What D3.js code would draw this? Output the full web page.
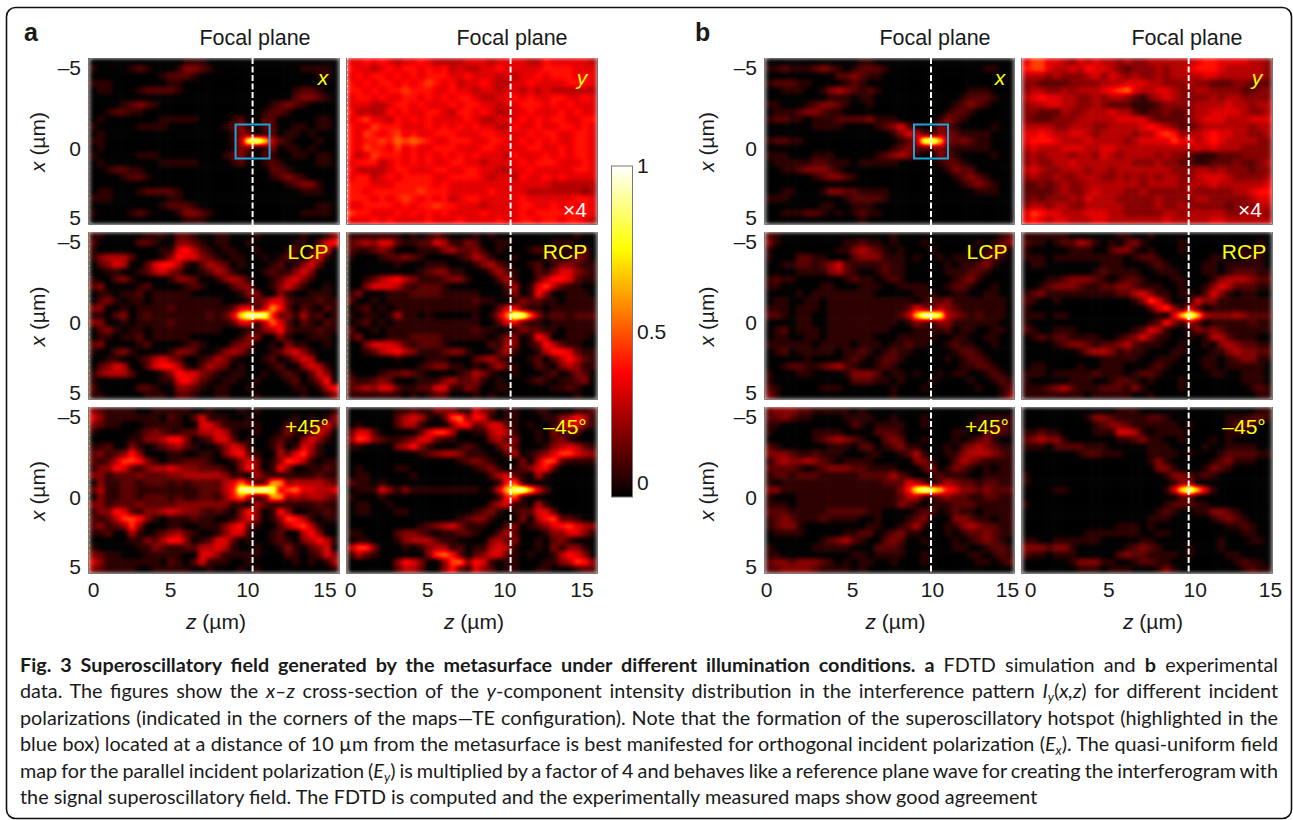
<!DOCTYPE html>
<html>
<head>
<meta charset="UTF-8">
<title>Fig. 3</title>
<script src="https://d3js.org/d3.v7.min.js"></script>
<style>
  body { margin: 0; background: #fff; }
  svg { display: block; }
  text { font-family: "Liberation Sans", sans-serif; fill: #1a1a1a; }
  .tick text { font-size: 21px; }
  .cap { font-family: Lato, sans-serif; font-size: 19.8px; }
</style>
</head>
<body>
<div id="chart"></div>
<script>
"use strict"
// intensity maps. each char is a level 0-f (0 -> 0, f -> 1), 32 columns x 23 rows
var aX = [
"0000 0000 0000 1110 0000 0000 0000 0000",
"1000 0121 0001 3321 0000 0000 0001 1110",
"0000 0000 0122 2100 0000 0000 0000 0110",
"1110 0000 0011 0000 0000 0000 0000 0000",
"0110 0012 2221 0000 0000 0000 0012 2100",
"0000 0000 0000 0000 0000 0000 0023 3210",
"0000 1232 1000 0000 0000 0001 2321 0000",
"0012 2110 0000 0000 0000 0012 2100 0000",
"0100 0000 0111 1100 0012 0022 0000 0110",
"1000 0011 1100 0000 0123 1022 0011 0110",
"0100 0000 0000 0000 0013 2012 0110 1000",
"1100 0000 0000 0000 0014 dfb4 2100 0100",
"0100 0000 0000 0000 0013 2013 0110 1000",
"1000 0011 1000 0000 0123 1021 0011 0110",
"0100 0000 0111 1100 0012 0012 1000 0110",
"0012 2110 0000 0000 0000 0002 2100 0000",
"0000 1221 0000 0000 0000 0001 2321 0000",
"0000 0000 0000 0000 0000 0000 0123 3100",
"0110 0012 2221 0000 0000 0000 0001 1100",
"1110 0000 0011 0000 0000 0000 0000 0000",
"0000 0000 0122 2100 0000 0000 0000 0110",
"1000 0121 0001 3321 0000 0000 0001 1110",
"0000 0000 0000 1110 0000 0000 0000 0000"]
var aY = [
"5565 6545 5654 4445 5545 5554 4655 5554",
"6554 5656 6565 6454 4556 5555 5666 6555",
"5656 6565 6566 6556 5554 5455 6566 6565",
"6565 6656 5676 5645 5654 4556 5555 6665",
"6656 5667 6665 5655 4554 5545 4544 4444",
"5665 6556 6565 6566 5445 5656 5566 5565",
"5554 4566 5655 5656 6554 5566 6565 6555",
"6444 4656 5566 5466 5654 4556 5556 5655",
"5675 5465 6565 5556 5445 5565 6566 5566",
"6557 6665 5565 6565 6554 4655 6556 6565",
"6576 5675 6556 6655 5665 5556 5665 5665",
"6566 7687 8765 5666 5566 5565 6565 5665",
"6576 6575 6556 6655 5665 5556 6556 5665",
"6457 6665 6565 6565 6555 4655 5656 5665",
"5666 4565 6565 5665 5455 5565 6665 5565",
"6444 4566 5556 6556 6554 4556 5555 5665",
"5664 5656 6665 5666 6545 5465 5656 5555",
"6665 5566 6665 6555 5555 5555 5544 4444",
"6656 6666 6766 6555 5565 5554 4444 4434",
"6665 6567 6565 6456 6555 5565 5555 5665",
"5566 6656 5667 6655 5455 5566 5565 6565",
"7665 5565 6565 6555 5655 5565 6666 6665",
"5556 5655 5565 5565 5556 5566 5665 6654"]
var aL = [
"1100 0001 1102 2100 1100 0100 0001 0013",
"2000 0022 1003 3210 1100 1000 0011 0256",
"1000 0000 0115 6421 0110 0100 0120 1450",
"1344 4200 0136 5532 1011 0010 1210 3510",
"0235 4002 5664 1024 3201 0001 2013 5200",
"0011 0012 4532 0012 4310 0012 1135 3000",
"1002 3100 0013 3200 1343 1001 2453 1000",
"2300 0012 0000 1210 0023 3001 3531 0010",
"0110 1120 1111 1000 0001 3300 3100 1110",
"0231 0110 1111 1111 1000 1235 5211 1211",
"3300 1011 1121 1111 1125 5149 6202 1021",
"1102 3012 1111 1112 125b ffe6 2314 1201",
"3300 1011 1121 1111 1125 5148 5202 1021",
"0231 0110 1111 1111 1000 1134 6211 1211",
"0110 1120 1111 1000 0001 3300 3100 1110",
"2300 0012 0000 1210 0023 3001 0311 0010",
"1002 3100 0013 3200 1343 1001 2453 1000",
"0011 0012 4532 0012 4310 0012 0135 4000",
"0235 4002 5664 1024 3201 0001 2003 5410",
"1344 4200 0136 5532 1011 0010 1210 2530",
"1000 0000 0115 6421 0110 0100 0120 1360",
"2000 0022 1003 3210 1100 1000 0011 0146",
"1100 0001 1102 2100 1100 0100 0001 0013"]
var aR = [
"1111 1110 1012 1000 1010 0000 0000 0100",
"2343 5521 1225 4113 2001 1000 0011 1000",
"2112 3200 0111 3422 3101 0001 2101 1120",
"1000 1223 2100 0012 4310 0100 0120 1320",
"0000 0010 0011 1000 1342 1001 2013 3211",
"0000 0000 0123 3110 0024 2100 2135 5321",
"0012 4564 3111 2331 0002 4100 2466 5211",
"0035 5542 1222 1000 0000 2401 5742 1100",
"1300 0111 2222 1111 1000 1301 6300 1110",
"2001 0111 1111 1111 2110 0132 2110 1111",
"0120 1011 1111 1111 1002 5521 1011 1111",
"1011 0141 1010 0000 1014 8fe8 3122 1222",
"0120 1011 1111 1111 1002 5521 1011 1111",
"2001 0111 1111 1111 2110 0132 2110 1111",
"1300 0111 2222 1111 1101 3301 6400 1110",
"0035 5542 1222 1000 0021 4301 2642 1100",
"0012 4564 3111 2331 0002 4100 1466 5211",
"0000 0010 0011 1000 2342 1001 2024 6421",
"0000 0000 0123 3110 1024 2100 2103 4311",
"1000 1223 2100 0012 4310 0100 0120 1320",
"2112 3200 0111 3422 3101 0001 2101 1230",
"2343 5521 1225 5113 2001 1000 0011 2100",
"1111 1110 1012 2000 1010 0000 0000 0100"]
var aP = [
"3211 1100 1111 1001 0001 0100 0000 0001",
"5311 1111 1021 0251 1100 1000 0010 1013",
"3211 0001 1111 0055 3111 1100 0210 1252",
"1000 0012 3211 2244 5410 0100 1310 2530",
"0000 0113 3466 3012 5520 1001 2103 5310",
"1120 0310 1234 2100 1354 1001 3015 4100",
"2312 3630 0011 0011 0356 2100 4257 3100",
"2124 7763 1011 2221 0013 5301 3764 1011",
"1336 5213 4454 3322 2103 6301 6300 1121",
"3312 2232 2233 4444 4311 0421 1111 1211",
"0311 2212 2212 1222 2458 4129 9344 4432",
"2411 2211 1111 1122 246e fffd 5785 5445",
"0311 2212 2212 1122 1368 4129 9343 4432",
"3312 2232 2223 3333 3311 0421 1111 1211",
"1336 5213 3454 3321 2103 6301 6300 1121",
"2124 7763 1011 1211 0013 5301 3764 1011",
"2312 3730 0011 0011 1356 2100 2467 4100",
"1120 0410 1234 2100 1355 1001 2004 6300",
"0000 0113 2466 3012 5520 1001 2103 4641",
"1000 0011 3211 2244 5410 0100 1310 2350",
"3211 0001 1111 0055 3111 1100 0210 1253",
"5311 1111 1021 0251 1100 1000 0010 1014",
"3211 1100 1111 1001 0001 0100 0000 0001"]
var aM = [
"0000 0011 2113 3311 5320 1100 1100 0112",
"0000 0024 5410 2783 6510 1100 0113 4641",
"0100 0024 4100 0366 2355 2101 0013 5531",
"2552 0000 0257 7400 1145 4100 1031 2200",
"3763 2112 3552 1100 0034 2300 1023 1000",
"1100 0034 6310 0012 1002 4200 0134 5421",
"0000 0000 0123 4431 1100 2401 2357 7543",
"0000 0000 0000 0012 3210 0030 4772 1111",
"0100 0011 0000 0000 1231 0123 5620 0000",
"0110 0000 1000 0000 0024 5210 4100 0000",
"2110 1000 0000 0000 0001 6710 0000 0000",
"0111 5313 1111 1111 1015 aefa 5200 0000",
"1000 1000 0000 0000 0001 6710 0000 0000",
"0110 0100 0000 0000 0024 5110 4100 0000",
"0110 0011 0000 0000 1231 0122 5520 0000",
"0000 0000 0000 0012 3310 0030 4672 2100",
"0000 0000 0123 4531 1100 2301 2356 7543",
"1100 0023 3210 1122 1002 4200 0133 5531",
"0110 0013 4442 1100 0034 2300 1023 1000",
"4773 0001 0134 4120 1145 4100 1031 3310",
"1421 0000 0037 8620 2355 2101 0014 6530",
"0000 0036 5300 3783 6510 1100 0113 4763",
"0000 0024 4200 3621 5320 1100 1100 0122"]
var bX = [
"0000 0000 0000 1100 0000 0000 0000 0000",
"1121 1123 2101 2221 0000 0000 0000 1100",
"0000 0000 0223 2110 0000 0000 0000 0000",
"1222 1100 0012 1000 0000 0000 0000 0000",
"0011 1001 3432 1210 0000 0000 0011 1000",
"0000 0000 1110 1100 0000 0000 0122 2100",
"1100 0123 3210 0100 0000 0000 1232 1000",
"0111 2332 1100 0000 0000 0001 2210 0000",
"1221 1011 1222 2311 1000 0013 2100 0000",
"0000 0011 1100 0012 3521 0032 1000 0100",
"0000 0000 0000 0000 1354 2133 2111 1000",
"1221 1000 0000 0000 0124 dfa3 2321 1000",
"0000 0000 0000 0000 1232 2232 1111 1000",
"1110 0011 1000 0012 3431 0032 1000 0100",
"0111 1122 1110 1111 1000 0012 2100 0000",
"0011 2333 2100 0000 0000 0001 3220 0000",
"0000 0012 3321 0000 0000 0000 1232 1000",
"0000 0000 0000 0000 0000 0000 0123 2100",
"0011 0001 3322 1111 0000 0000 0001 1100",
"1110 0000 0012 2221 0000 0000 0000 0000",
"0000 0001 1001 1100 0000 0000 0000 0000",
"0011 1221 0101 2110 0000 0000 0000 0000",
"0000 0000 0000 1000 0000 0000 0000 0000"]
var bY = [
"5775 5435 4544 3433 4444 4456 6555 5443",
"6775 4454 6554 3233 3434 4566 6544 4443",
"4443 4333 4535 4343 3434 4445 5444 4443",
"3322 2233 3344 4555 4433 3433 2223 3222",
"3443 3434 4456 7854 4554 3344 3333 2233",
"4565 5443 3434 4321 3454 3333 4344 3333",
"3445 5443 3432 2211 1233 3344 4454 4344",
"3322 2433 4445 4421 2232 2344 5555 4334",
"3222 3334 4444 5555 3222 2345 5544 4555",
"4444 3344 4334 4445 6543 2234 4444 4344",
"5565 4455 4344 4434 4676 3445 6554 4334",
"5666 5444 5444 4345 5557 5645 6544 4433",
"4544 4555 4455 4444 4444 4454 5444 3333",
"3434 4434 4354 3444 4343 3211 1222 3333",
"3433 4454 4444 4433 3433 2211 2223 2234",
"4543 3444 3443 4444 4443 3344 3433 3233",
"3433 4334 4433 4343 4344 3345 5543 3334",
"2232 3433 4444 4443 4444 3444 5444 4445",
"2222 3433 4544 4334 3333 3433 3334 4566",
"2323 3343 5444 3333 3433 3344 3333 3455",
"3443 4433 4444 4333 3433 4333 3323 3344",
"5765 5444 5554 4333 3344 3444 4433 4443",
"5654 5544 4554 4444 4454 4444 5544 4444"]
var bL = [
"2100 0000 0000 0000 1000 0000 0000 0012",
"3100 0000 0011 2110 1000 1000 0001 0123",
"1000 0000 0113 4321 0100 0100 0010 1230",
"1000 2211 0002 3331 1101 0010 1100 2210",
"0011 2212 3521 1112 1100 0001 0112 3100",
"0000 1111 3421 0012 1100 0001 1122 1000",
"1211 0000 0012 1101 2100 0000 1231 0000",
"1100 0001 1000 1110 0111 1001 2210 0100",
"0000 1011 1111 1100 0001 1100 1100 1100",
"0110 0110 1111 1111 1110 1223 1111 1110",
"1110 1110 1111 1111 1125 3243 2111 1110",
"2210 1100 1111 1111 124a ffc4 3212 1110",
"0000 1100 1111 1111 1013 2133 1111 1100",
"0120 1110 1111 1111 0001 1112 0110 0110",
"0110 0110 1111 1100 0111 1100 1100 1100",
"1111 1101 1110 1110 1121 1001 2110 0100",
"0120 1111 1011 2101 2110 0000 1221 0000",
"0000 0100 0012 1012 2100 0001 0122 1000",
"0012 2112 3421 0012 1000 0000 0112 2100",
"1000 1100 0013 3320 1101 0010 1100 1210",
"1000 0000 0002 2211 0100 0100 0010 0121",
"2100 0001 1100 0000 1000 1000 0001 0012",
"3100 0000 0000 0000 1000 0000 0000 0013"]
var bR = [
"1111 1100 0000 1100 1000 0000 0000 0000",
"2110 1224 3101 0231 0000 1000 0000 0010",
"1000 0011 1002 3310 1000 1000 0000 1110",
"1110 1111 1111 1012 2100 0000 1100 1110",
"0110 0000 0011 1000 1210 0001 1011 1110",
"0000 0000 0121 1110 0111 0001 1012 2211",
"0001 1233 3210 1221 0001 1000 1344 4322",
"0012 3332 1122 3321 1100 1001 3542 2211",
"1231 1111 1111 2245 3110 1102 5310 1100",
"2100 1000 0000 0013 7520 0153 3111 1111",
"1000 0000 0000 0000 2573 1520 1111 1111",
"1110 1100 0000 0000 0105 afa4 3334 3222",
"1000 0000 0000 0000 1263 1420 1111 1211",
"2100 1110 0000 0012 5410 0132 3211 1111",
"0121 2211 1100 1235 3110 0101 4421 1100",
"0000 1233 2122 3421 1100 1001 0343 2211",
"0000 0001 3443 1211 0001 1000 1134 3322",
"0000 0000 0011 1110 0111 0001 1012 3311",
"0110 0001 0011 1000 1210 0001 1011 1110",
"1110 1111 1211 1012 2100 0000 1100 1110",
"1000 0011 1001 2210 1000 1000 0000 1110",
"1112 3421 1122 2131 0000 1000 0000 0121",
"1111 1111 0111 1100 1000 0000 0000 0011"]
var bP = [
"2333 2211 1110 1000 0000 0000 0000 0000",
"2232 1100 0011 1100 1000 1000 0001 1111",
"1100 0000 0002 1011 1100 1000 0011 0121",
"1000 0011 1100 0022 2100 0000 1100 2221",
"0000 0012 3432 1002 3200 1000 1012 3100",
"2100 0000 1110 2201 2311 0001 0234 3211",
"3332 1121 1100 0110 0124 1001 1344 4321",
"1343 3432 1011 1100 0003 3100 2432 1111",
"2222 1012 3332 2111 1000 2301 3210 1011",
"1221 2221 1111 2222 4210 0121 1100 1111",
"1011 1111 1111 1112 2254 2024 3221 2211",
"3311 1111 1111 1111 136c fda6 5332 3222",
"1000 1111 1111 1111 1244 1123 2211 2211",
"1110 1111 1111 1111 1321 0111 2221 1111",
"2221 1111 2222 2110 0001 2201 2110 1111",
"1232 1112 1111 0010 0012 3000 3321 1011",
"1233 1000 0000 0110 0124 1001 1343 2211",
"0111 1000 0011 2201 2311 0001 0122 3211",
"0000 0001 2342 1002 3200 1000 1012 3210",
"1000 0011 1110 0022 2100 0000 1100 1221",
"1100 0000 0001 1011 1100 1000 0011 0121",
"2332 3332 1010 1100 1000 1000 0001 1012",
"2233 3321 1110 1000 0000 0000 0000 0000"]
var bM = [
"0000 0000 0000 1110 0000 0000 0000 0011",
"0000 0000 1332 1111 2210 0000 0011 1221",
"0000 0000 0123 3211 1111 0100 0012 2200",
"1121 1000 0111 5541 0111 1000 0011 1000",
"2343 3100 0000 1123 1100 1000 1010 0000",
"1110 2222 1110 0000 1110 0001 0011 1100",
"0000 0001 2211 1000 1111 0100 0122 2211",
"0000 0000 0000 0000 1310 0000 1231 1100",
"0000 0000 0000 0000 0331 0001 3210 0000",
"1000 0000 0000 0000 0013 3212 1000 0000",
"1000 0000 0000 0000 0001 3300 0000 0000",
"0000 1100 0000 0000 0015 bfa5 1000 0000",
"0000 0000 0000 0000 0000 2200 0000 0000",
"1000 0000 0000 0000 0012 2211 0000 0000",
"0000 0000 0000 0000 0121 0011 3321 0000",
"0000 0000 0000 0000 1110 0000 1232 1000",
"0000 0000 0000 1110 1000 0000 0011 2100",
"0000 0000 1111 1110 0110 0000 0000 1100",
"1100 1111 1100 0001 1000 0000 0100 0110",
"3332 3310 0000 0123 2100 0100 0100 0000",
"2110 1110 0000 2322 1111 0100 0011 0000",
"0000 0013 3311 0012 2110 0000 0001 2110",
"0000 0001 1101 1100 0131 0000 0000 1211"]
var levelMax = 15

var yTicks = [-5, 0, 5]
var yTickNudge = [0, 7, 3]
var zTicks = [0, 5, 10, 15]
var cbarTicks = [0, 0.5, 1]

var focusA = 10.6, focusB = 10.0      // dashed focal plane, um
var zMaxA = 16.2, zMaxB = 15
var xHalf = 5.68

var captionLines = [
  [["Fig. 3 Superoscillatory field generated by the metasurface under different illumination conditions. a", "b"], [" FDTD simulation and ", ""], ["b", "b"], [" experimental", ""]],
  [["data. The figures show the ", ""], ["x–z", "i"], [" cross-section of the ", ""], ["y", "i"], ["-component intensity distribution in the interference pattern ", ""], ["I", "i"], ["y", "s"], ["(", ""], ["x,z", "i"], [") for different incident", ""]],
  [["polarizations (indicated in the corners of the maps—TE configuration). Note that the formation of the superoscillatory hotspot (highlighted in the", ""]],
  [["blue box) located at a distance of 10 µm from the metasurface is best manifested for orthogonal incident polarization (", ""], ["E", "i"], ["x", "s"], ["). The quasi-uniform field", ""]],
  [["map for the parallel incident polarization (", ""], ["E", "i"], ["y", "s"], [") is multiplied by a factor of 4 and behaves like a reference plane wave for creating the interferogram with", ""]],
  [["the signal superoscillatory field. The FDTD is computed and the experimentally measured maps show good agreement", ""]]
]

// layout
var rowsY = [[58, 224], [232, 399], [407, 573]]
var panels = [
  {m: aX, c: [89, 339], r: 0, f: focusA, zMax: zMaxA, lab: "x", it: 1, lx: 323, yAxis: 1, edge: "#a33", box: 1},
  {m: aY, c: [347, 597], r: 0, f: focusA, zMax: zMaxA, lab: "y", it: 1, lx: 582, edge: "#fe9"},
  {m: aL, c: [89, 339], r: 1, f: focusA, zMax: zMaxA, lab: "LCP", lx: 308, yAxis: 1, edge: "#f80"},
  {m: aR, c: [347, 597], r: 1, f: focusA, zMax: zMaxA, lab: "RCP", lx: 565, edge: "#f80"},
  {m: aP, c: [89, 339], r: 2, f: focusA, zMax: zMaxA, lab: "+45°", lx: 307, yAxis: 1, zAxis: [4, 4, 4, 4], edge: "#f90"},
  {m: aM, c: [347, 597], r: 2, f: focusA, zMax: zMaxA, lab: "–45°", lx: 565, zAxis: [3, 3, 3, 3], edge: "#c40"},
  {m: bX, c: [765, 1014], r: 0, f: focusB, zMax: zMaxB, lab: "x", it: 1, lx: 1000, yAxis: 1, box: 1},
  {m: bY, c: [1022, 1272], r: 0, f: focusB, zMax: zMaxB, lab: "y", it: 1, lx: 1257},
  {m: bL, c: [765, 1014], r: 1, f: focusB, zMax: zMaxB, lab: "LCP", lx: 987, yAxis: 1},
  {m: bR, c: [1022, 1272], r: 1, f: focusB, zMax: zMaxB, lab: "RCP", lx: 1244},
  {m: bP, c: [765, 1014], r: 2, f: focusB, zMax: zMaxB, lab: "+45°", lx: 987, yAxis: 1, zAxis: [1, 4, 1, -7]},
  {m: bM, c: [1022, 1272], r: 2, f: focusB, zMax: zMaxB, lab: "–45°", lx: 1244, zAxis: [8, 3, 6, -2]}
]

// matlab "hot"
var hot = d3.scaleLinear()
  .domain([0, 0.375, 0.75, 1])
  .range(["#000000", "#ff0000", "#ffff00", "#ffffff"])
var grey = d3.scaleLinear().domain([0, 1]).range(["#000000", "#ffffff"])

var svg = d3.select("#chart").append("svg").attr("width", 1293).attr("height", 820)
var defs = svg.append("defs")

svg.append("rect")
  .attr("x", 6.5).attr("y", 7.5).attr("width", 1285).attr("height", 811)
  .attr("rx", 9).attr("fill", "#fff").attr("stroke", "#111").attr("stroke-width", 1.6)

// lookup tables for feComponentTransfer, so the blur happens on the values and not on the colours
var lut = d3.range(0, 1.001, 1 / 64).map(function(t) { return d3.rgb(hot(t)) })
function table(ch) { return lut.map(function(c) { return (c[ch] / 255).toFixed(3) }).join(" ") }

panels.forEach(function(p, i) { drawPanel(p, i) })

function drawPanel(p, i) {
  var yr = rowsY[p.r]
  var cells = p.m.map(function(s) { return s.replace(/ /g, "").split("").map(function(c) { return parseInt(c, 16) / levelMax }) })
  var col = d3.scaleBand().domain(d3.range(32)).range(p.c)
  var row = d3.scaleBand().domain(d3.range(23)).range(yr)
  var z = d3.scaleLinear().domain([0, p.zMax]).range(p.c)
  var x = d3.scaleLinear().domain([-xHalf, xHalf]).range(yr)
  var w = p.c[1] - p.c[0], h = yr[1] - yr[0]

  defs.append("clipPath").attr("id", "clip" + i).append("rect")
    .attr("x", p.c[0]).attr("y", yr[0]).attr("width", w).attr("height", h)
  var f = defs.append("filter").attr("id", "soft" + i)
    .attr("filterUnits", "userSpaceOnUse")
    .attr("x", p.c[0]).attr("y", yr[0]).attr("width", w).attr("height", h)
    .attr("color-interpolation-filters", "sRGB")
  f.append("feGaussianBlur").attr("stdDeviation", "2.4 1.9").attr("edgeMode", "duplicate")
  var tr = f.append("feComponentTransfer")
  tr.append("feFuncR").attr("type", "table").attr("tableValues", table("r"))
  tr.append("feFuncG").attr("type", "table").attr("tableValues", table("g"))
  tr.append("feFuncB").attr("type", "table").attr("tableValues", table("b"))

  var g = svg.append("g")
  var map = g.append("g").attr("clip-path", "url(#clip" + i + ")").append("g").attr("filter", "url(#soft" + i + ")")
  cells.forEach(function(vals, r) {
    map.selectAll(null).data(vals).enter().append("rect")
      .attr("x", function(d, c) { return col(c) })
      .attr("y", row(r))
      .attr("width", col.bandwidth() + 0.5)
      .attr("height", row.bandwidth() + 0.5)
      .attr("fill", function(d) { return grey(d) })
  })

  // frame: grey on the left and bottom, dark on top
  g.append("path").attr("fill", "none").attr("stroke", "#777").attr("stroke-width", 1)
    .attr("d", "M" + (p.c[0] - 0.5) + "," + yr[0] + "V" + (yr[1] + 0.5) + "H" + (p.c[1] + 0.5) + "V" + yr[0])
  if (p.edge) {
    g.append("line").attr("x1", p.c[0] + 0.5).attr("x2", p.c[0] + 0.5).attr("y1", yr[0]).attr("y2", yr[1])
      .attr("stroke", p.edge).attr("stroke-width", 1).attr("stroke-dasharray", "1.5,4")
  }

  g.append("line")
    .attr("x1", z(p.f)).attr("x2", z(p.f)).attr("y1", yr[0] - (p.r ? 3 : 0)).attr("y2", yr[1] + 2)
    .attr("stroke", "#fff").attr("stroke-width", 2).attr("stroke-dasharray", "6,2.5")

  if (p.box) {
    g.append("rect")
      .attr("x", z(p.f) - 17).attr("y", x(0) - 16.5).attr("width", 34).attr("height", 34)
      .attr("fill", "none").attr("stroke", "#1ba3dc").attr("stroke-width", 2)
  }

  g.append("text").attr("x", p.lx).attr("y", yr[0] + 27)
    .attr("text-anchor", "middle").style("font-size", "21px").style("fill", "#ffff00")
    .style("font-style", p.it ? "italic" : "normal").text(p.lab)
  if (p.lab == "y") {
    g.append("text").attr("x", p.lx - 7).attr("y", yr[1] - 7)
      .attr("text-anchor", "middle").style("font-size", "21px").style("fill", "#fff").text("×4")
  }

  if (p.yAxis) {
    var yg = g.append("g").attr("transform", "translate(" + (p.c[0] - 8) + ",0)")
      .call(d3.axisLeft(x).tickValues(yTicks).tickSize(0).tickPadding(0)
        .tickFormat(function(d) { return d < 0 ? "–5" : d }))
    yg.select(".domain").remove()
    yg.selectAll(".tick text").attr("dy", function(d, k) { return 7 + yTickNudge[k] })
    yg.attr("font-family", null).attr("font-size", null)

    var lab = g.append("text")
      .attr("transform", "translate(" + (p.c[0] - 44 - (p.c[0] > 400 ? 7 : 0)) + "," + (x(0) + 1) + ") rotate(-90)")
      .attr("text-anchor", "middle").style("font-size", "21px")
    lab.append("tspan").style("font-style", "italic").text("x")
    lab.append("tspan").text(" (µm)")
  }

  if (p.zAxis) {
    var zg = g.append("g").attr("transform", "translate(0," + (yr[1] + 24) + ")")
      .call(d3.axisBottom(z).tickValues(zTicks).tickSize(0).tickPadding(0))
    zg.select(".domain").remove()
    zg.selectAll(".tick text").attr("x", function(d, k) { return p.zAxis[k] }).attr("dy", 0)
    zg.attr("font-family", null).attr("font-size", null)

    var zl = g.append("text").attr("x", z(p.zMax / 2) + (p.c[0] > 700 ? 6 : 2)).attr("y", 629)
      .attr("text-anchor", "middle").style("font-size", "21px")
    zl.append("tspan").style("font-style", "italic").text("z")
    zl.append("tspan").text(" (µm)")
  }
}

// top titles and panel letters
var titles = [[255, "Focal plane"], [512, "Focal plane"], [935, "Focal plane"], [1187, "Focal plane"]]
svg.selectAll(".title").data(titles).enter().append("text")
  .attr("class", "title").attr("x", function(d) { return d[0] }).attr("y", 45)
  .attr("text-anchor", "middle").style("font-size", "21.5px").text(function(d) { return d[1] })
svg.append("text").attr("x", 24).attr("y", 41).style("font-size", "25px").style("font-weight", "bold").text("a")
svg.append("text").attr("x", 695).attr("y", 41).style("font-size", "25px").style("font-weight", "bold").text("b")

// colour bar
var cy = d3.scaleLinear().domain([0, 1]).range([497, 166])
var grad = defs.append("linearGradient").attr("id", "cbar").attr("x1", 0).attr("x2", 0).attr("y1", 1).attr("y2", 0)
hot.domain().forEach(function(d) {
  grad.append("stop").attr("offset", d).attr("stop-color", hot(d))
})
svg.append("rect").attr("x", 611.5).attr("y", cy(1)).attr("width", 21).attr("height", cy(0) - cy(1))
  .attr("fill", "url(#cbar)").attr("stroke", "#777").attr("stroke-width", 1)
svg.selectAll(".cb").data(cbarTicks).enter().append("text")
  .attr("class", "cb").attr("x", 637)
  .attr("y", function(d) { return d == 0 ? cy(d) - 7 : cy(d) + 7 })
  .style("font-size", "21px").text(function(d) { return d })

// caption, justified with word spacing
var capTop = 672, capStep = 26.4, capLeft = 20, capRight = 1278
captionLines.forEach(function(segs, i) {
  var t = svg.append("text").attr("class", "cap").attr("x", capLeft).attr("y", capTop + i * capStep)
  var n = 0, lowered = false
  segs.forEach(function(s) {
    var sp = t.append("tspan").text(s[0])
    n += s[0].split(" ").length - 1
    if (s[1] == "b") sp.style("font-weight", "bold")
    if (s[1] == "i") sp.style("font-style", "italic")
    if (s[1] == "s") {
      sp.style("font-style", "italic").style("font-size", "13px").attr("dy", 4)
      lowered = true
    } else if (lowered) {
      sp.attr("dy", -4)
      lowered = false
    }
  })
  if (i < captionLines.length - 1) {
    var len = t.node().getComputedTextLength()
    t.style("word-spacing", ((capRight - capLeft - len) / n) + "px")
  }
})
</script>
</body>
</html>
